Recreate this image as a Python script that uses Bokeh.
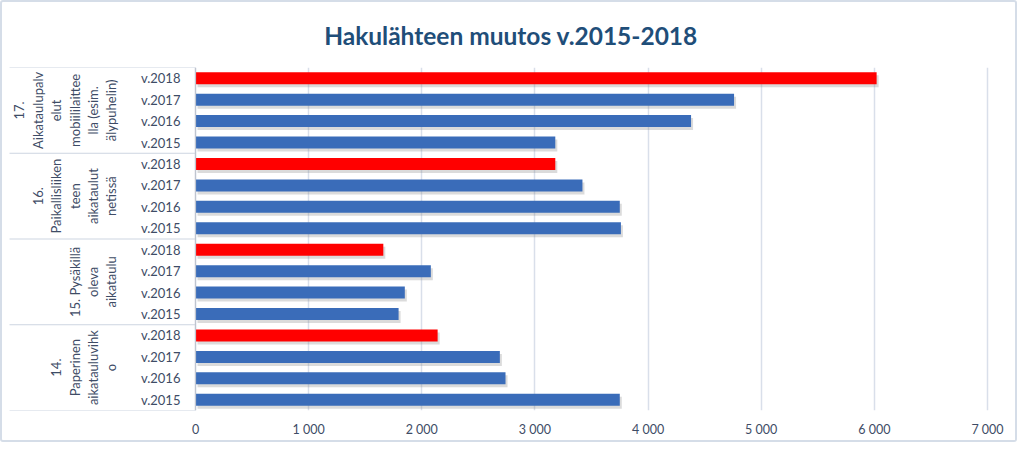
from bokeh.plotting import figure
from bokeh.models import ColumnDataSource, FixedTicker, Span
from bokeh.core.properties import value
from bokeh.embed import file_html
from bokeh.resources import INLINE
import math

# ---------------- data ----------------
groups = [
    "14. Paperinen aikatauluvihko",
    "15. Pysäkillä oleva aikataulu",
    "16. Paikallisliikenteen aikataulut netissä",
    "17. Aikataulupalvelut mobiililaitteella (esim. älypuhelin)",
]
group_labels = [
    "14.\nPaperinen\naikatauluvihk\no",
    "15. Pysäkillä\noleva\naikataulu",
    "16.\nPaikallisliiken\nteen\naikataulut\nnetissä",
    "17.\nAikataulupalv\nelut\nmobiililaittee\nlla (esim.\nälypuhelin)",
]
years = ["v.2015", "v.2016", "v.2017", "v.2018"]
v2015 = [3750, 1795, 3760, 3180]
v2016 = [2740, 1850, 3750, 4380]
v2017 = [2690, 2080, 3420, 4760]
v2018 = [2140, 1660, 3180, 6020]
tick_values = [0, 1000, 2000, 3000, 4000, 5000, 6000, 7000]
tick_labels = ["0", "1 000", "2 000", "3 000", "4 000", "5 000", "6 000", "7 000"]

# ---------------- styling ----------------
W, H = 1017, 442
FONT = "Lato"
TXT = "#3E4C66"
BLUE = "#3A6CB9"
RED = "#FF0000"
PX_PER_UNIT = (987 - 195) / 7000.0
ZERO_PX = 193
x_start = -ZERO_PX / PX_PER_UNIT
x_end = (W - ZERO_PX) / PX_PER_UNIT
unit_per_px = 1 / PX_PER_UNIT

series = [v2015, v2016, v2017, v2018]
colors_by_year = [BLUE, BLUE, BLUE, RED]

rows, vals, cols, ylabels = [], [], [], []
for g in range(len(groups)):
    for yi in range(len(years)):
        rows.append(g * len(years) + yi)
        vals.append(series[yi][g])
        cols.append(colors_by_year[yi])
        ylabels.append(years[yi])

n_rows = len(rows)
row_px = 343.0 / n_rows
src = ColumnDataSource(dict(y=rows, right=vals, color=cols, label=ylabels,
                            ys=[r - 3 / row_px for r in rows],
                            rs=[v + 2 * unit_per_px for v in vals],
                            ls=[2 * unit_per_px] * n_rows))

p = figure(width=W, height=H, output_backend="svg", toolbar_location=None,
           x_range=(x_start, x_end), y_range=(-0.5, n_rows - 0.5),
           y_axis_location=None, min_border_left=0, min_border_right=0,
           min_border_top=65, min_border_bottom=34)
p.outline_line_color = None
p.background_fill_color = "white"
p.border_fill_color = "white"
p.styles = {"border": "2px solid #D5DDE8", "border-radius": "3px"}

p.title.text = "Hakulähteen muutos v.2015-2018"
p.title.align = "center"
p.title.vertical_align = "top"
p.title.text_font = FONT
p.title.text_font_size = "24.5px"
p.title.text_font_style = "bold"
p.title.text_color = "#1F4E79"
p.title.standoff = 32

# x axis
p.xaxis.ticker = FixedTicker(ticks=tick_values)
p.xaxis.major_label_overrides = {v: s for v, s in zip(tick_values, tick_labels)}
p.xaxis.axis_line_color = None
p.xaxis.major_tick_line_color = None
p.xaxis.minor_tick_line_color = None
p.xaxis.major_label_standoff = 5
p.xaxis.major_label_text_font = FONT
p.xaxis.major_label_text_font_size = "12.5px"
p.xaxis.major_label_text_color = TXT

p.xgrid.ticker = FixedTicker(ticks=tick_values)
p.xgrid.grid_line_color = "#D9DFEA"
p.xgrid.grid_line_width = 1.5
p.ygrid.visible = False

# left category panel separators
bounds = [g * len(years) - 0.5 for g in range(len(groups) + 1)]
p.segment(x0=[x_start + 7 * unit_per_px] * len(bounds), x1=[0] * len(bounds),
          y0=bounds, y1=bounds, line_color="#CDD5E1", line_width=1.2)
p.add_layout(Span(location=0, dimension="height", line_color="#BFC5CF", line_width=1.2))

# bars with soft shadow
p.hbar(y="ys", left="ls", right="rs", height=0.56, source=src,
       fill_color="#7F7F7F", fill_alpha=0.28, line_color=None)
p.hbar(y="y", left=0, right="right", height=0.56, source=src,
       fill_color="color", line_color=None)

# year labels
p.text(x=-133.0, y="y", text="label", source=src,
       text_font=value(FONT), text_font_size="13px", text_color=TXT,
       text_align="right", text_baseline="middle")

# group labels (rotated)
gsrc = ColumnDataSource(dict(
    x=[-672] * len(groups),
    y=[g * len(years) + (len(years) - 1) / 2 for g in range(len(groups))],
    text=group_labels))
p.text(x="x", y="y", text="text", source=gsrc, angle=math.pi / 2,
       text_font=value(FONT), text_font_size="13px", text_color=TXT,
       text_align="center", text_baseline="bottom", text_line_height=1.15)

open("out.html", "w").write(file_html(p, INLINE))
